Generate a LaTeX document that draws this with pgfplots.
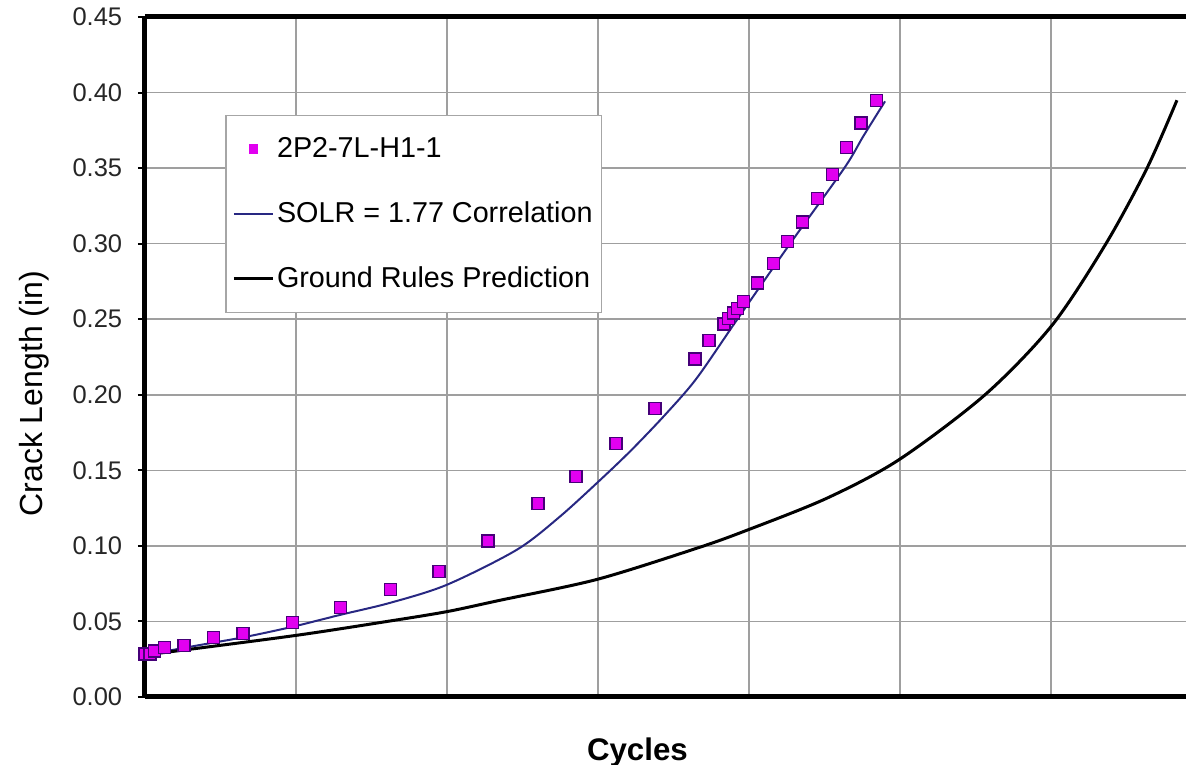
\documentclass[border=0pt]{standalone}
\usepackage{pgfplots}
\pgfplotsset{compat=1.18}
\usepackage{fontspec}
\setmainfont{Liberation Sans}

\definecolor{solr}{RGB}{40,40,130}
\definecolor{mfill}{RGB}{225,0,240}
\definecolor{medge}{RGB}{70,0,120}

\begin{document}
\begin{tikzpicture}
\begin{axis}[
    width=416.4pt, height=272pt, scale only axis,
    xmin=0, xmax=6.894, ymin=0, ymax=0.45,
    axis y line*=left, y axis line style={-},
    axis line style={line width=2pt},
    xtick={0,1,2,3,4,5,6}, xticklabels={},
    xtick style={draw=none},
    ytick={0,0.05,0.1,0.15,0.2,0.25,0.3,0.35,0.4,0.45},
    yticklabel style={/pgf/number format/.cd, fixed, fixed zerofill, precision=2, assume math mode=true, /tikz/.cd, xshift=-2.8pt},
    ticklabel style={font=\fontsize{10.2}{12}\selectfont, text=black!85},
    tick align=outside, major tick length=2.8pt,
    ytick style={black, line width=0.8pt},
    grid=major, grid style={gray!75, line width=0.6pt},
    clip=false,
    xlabel={Cycles},
    xlabel style={font=\fontsize{12.5}{14}\selectfont\bfseries, at={(axis description cs:0.473,-0.059)}, anchor=north, inner sep=0pt},
    ylabel={Crack Length (in)},
    ylabel style={font=\fontsize{12.8}{14}\selectfont, at={(axis description cs:-0.1067,0.446)}, anchor=center},
    legend cell align=left,
    legend image code/.code={\draw[mark repeat=2,mark phase=2] plot coordinates {(0cm,0cm) (0.275cm,0cm) (0.55cm,0cm)};},
    legend style={at={(rel axis cs:0.077,0.856)}, anchor=north west,
        draw=gray!70, line width=0.6pt, fill=white,
        font=\fontsize{11.5}{13}\selectfont,
        row sep=12.2pt, inner xsep=2.6pt, inner ysep=6.6pt,
        nodes={inner xsep=1pt}},
]

% test data: 2P2-7L-H1-1
\addplot[only marks, mark=square*, mark size=2.4pt,
    mark options={fill=mfill, draw=medge, line width=0.5pt},
    legend image post style={/tikz/mark size=1.7pt, /tikz/mark options={fill=mfill, draw=mfill, line width=0.3pt}}] table {
x y
0.000 0.0285
0.033 0.0285
0.062 0.0305
0.128 0.0326
0.258 0.0340
0.455 0.0393
0.649 0.0422
0.975 0.0495
1.296 0.0591
1.625 0.0709
1.947 0.0832
2.272 0.1033
2.603 0.1278
2.854 0.1457
3.119 0.1675
3.377 0.1907
3.642 0.2236
3.735 0.2358
3.834 0.2468
3.863 0.2503
3.896 0.2541
3.923 0.2572
3.962 0.2618
4.058 0.2740
4.161 0.2868
4.254 0.3015
4.353 0.3144
4.455 0.3298
4.552 0.3457
4.647 0.3636
4.742 0.3799
4.846 0.3945
};
\addlegendentry{2P2-7L-H1-1}

% SOLR = 1.77 correlation
\addplot[solr, line width=0.8pt, smooth, tension=0.5] table {
x y
0.000 0.0278
0.364 0.0344
0.662 0.0397
0.974 0.0464
1.291 0.0543
1.623 0.0623
1.998 0.0742
2.462 0.0974
2.748 0.1194
3.040 0.1460
3.234 0.1647
3.455 0.1879
3.654 0.2110
3.923 0.2500
4.272 0.3000
4.631 0.3500
4.757 0.3711
4.901 0.3942
};
\addlegendentry{SOLR = 1.77 Correlation}

% ground rules prediction
\addplot[black, line width=1.2pt, smooth, tension=0.5] table {
x y
0.000 0.0278
0.974 0.0404
1.623 0.0503
2.000 0.0565
2.351 0.0640
2.993 0.0778
3.656 0.0985
3.993 0.1106
4.517 0.1316
4.993 0.1570
5.563 0.2000
6.007 0.2460
6.364 0.3000
6.636 0.3500
6.834 0.3949
};
\addlegendentry{Ground Rules Prediction}

\coordinate (bl) at (rel axis cs:0,0);
\coordinate (tr) at (rel axis cs:1,1);
\end{axis}
\pgfresetboundingbox
\path ([shift={(-58pt,-27.2pt)}]bl) rectangle ([shift={(0pt,6.8pt)}]tr);
\end{tikzpicture}
\end{document}
